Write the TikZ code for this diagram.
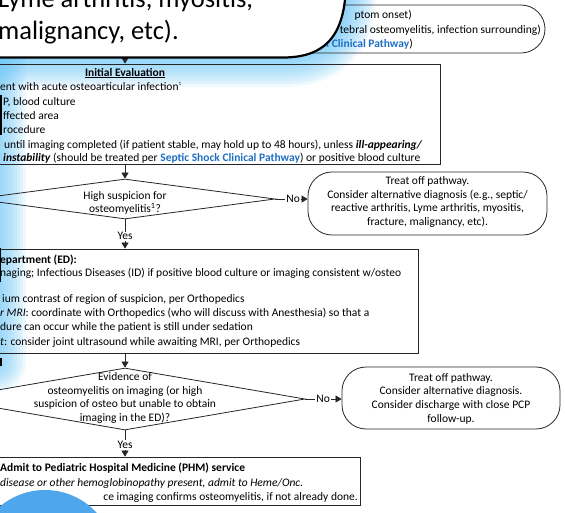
\documentclass[tikz,border=0pt]{standalone}
\usepackage{fontspec}
\setmainfont{Carlito}
\usepackage{xcolor}
\usetikzlibrary{arrows.meta,positioning,calc,shapes.geometric}
\definecolor{linkblue}{RGB}{31,110,196}
\definecolor{glowblue}{RGB}{95,192,245}
\definecolor{dotblue}{RGB}{78,166,236}

\begin{document}
\begin{tikzpicture}[x=1pt,y=-1pt,
    every node/.style={font=\fontsize{11.5}{13.7}\selectfont},
    frame/.style={draw=black!85,line width=0.8pt,inner sep=0pt},
    decision/.style={frame,diamond},
    terminal/.style={frame,rounded corners=24pt},
    line/.style={anchor=base west,inner sep=0pt},
    lineend/.style={anchor=base east,inner sep=0pt},
    arr/.style={draw=black!85,line width=0.7pt,-{Triangle[length=6pt,width=7pt]}},
    lbl/.style={fill=white,inner sep=1pt},
    glow/.style={draw=glowblue,opacity=0.1,line cap=round,line join=round}]
  \useasboundingbox (0,0) rectangle (565,512);
  \clip (0,0) rectangle (565,512);

  % glow round the callout
  \foreach \w in {6,12,...,60}{
    \draw[glow,line width=\w pt] (-20,57) -- (283,57) .. controls (330,57) and (346,30) .. (346,-10);
    \draw[glow,line width=\w pt] (-4,57) -- (-4,362);
  }

  % top box, mostly under the callout
  \node[terminal,minimum width=345pt,minimum height=48pt] (onset) at (372.5,29) {};
  \node[lineend] (onset1) at (412,18) {ptom onset)};
  \node[lineend] (onset2) at (541,33) {tebral osteomyelitis, infection surrounding)};
  \node[lineend] (onset3) at (413,47) {\textcolor{linkblue}{\textbf{ck Clinical Pathway}})};

  % initial evaluation
  \coordinate (entry) at (125,40);
  \node[frame,minimum width=630pt,minimum height=100pt] (initial) at (125,114) {};
  \draw[arr] (entry) -- (initial);
  \node[anchor=base,inner sep=0pt] (initialtitle) at (125,76) {\textbf{\underline{Initial Evaluation}}};
  \node[line] (initial1) at (0,90) {ent with acute osteoarticular infection\textsuperscript{\tiny 1}};
  \node[line] (initial2) at (3,105) {P, blood culture};
  \node[line] (initial3) at (3,119) {ffected area};
  \node[line] (initial4) at (3,133) {rocedure};
  \node[line] (initial5) at (4,148) {until imaging completed (if patient stable, may hold up to 48 hours), unless \textbf{\textit{ill-appearing/}}};
  \node[line] (initial6) at (3,161) {\textbf{\textit{instability}} (should be treated per \textcolor{linkblue}{\textbf{Septic Shock Clinical Pathway}}) or positive blood culture};

  % first decision
  \node[decision,minimum width=300pt,minimum height=40pt] (suspicion) at (125,199) {};
  \node[align=center,inner sep=0pt] (suspiciontext) at (125,203) {High suspicion for\\osteomyelitis\textsuperscript{1}?};
  \draw[arr] (initial) -- (suspicion);
  \node[terminal,minimum width=239pt,minimum height=63pt] (offpath) at (427.5,203.5) {};
  \node[align=center,inner sep=0pt] (offpathtext) at (427.5,202) {Treat off pathway.\\Consider alternative diagnosis (e.g., septic/\\reactive arthritis, Lyme arthritis, myositis,\\fracture, malignancy, etc).};
  \draw[arr] (suspicion.east) -- node[lbl,pos=0.55] (no1) {No} (suspicion.east -| offpath.west);

  % emergency department
  \node[frame,minimum width=586pt,minimum height=104pt] (ed) at (125,301) {};
  \draw[arr] (suspicion) -- node[lbl,pos=0.58] (yes1) {Yes} (ed);
  \node[line] (ed1) at (0,263) {\textbf{epartment (ED):}};
  \node[line] (ed2) at (0,276) {naging; Infectious Diseases (ID) if positive blood culture or imaging consistent w/osteo};
  \node[line] (ed3) at (2,302) {ium contrast of region of suspicion, per Orthopedics};
  \node[line] (ed4) at (0,316) {\textit{r MRI}: coordinate with Orthopedics (who will discuss with Anesthesia) so that a};
  \node[line] (ed5) at (0,330) {dure can occur while the patient is still under sedation};
  \node[line] (ed6) at (0,345) {\textit{t}: consider joint ultrasound while awaiting MRI, per Orthopedics};

  % second decision
  \node[decision,minimum width=360pt,minimum height=62pt] (evidence) at (125,399) {};
  \node[align=center,inner sep=0pt] (evidencetext) at (125,398) {Evidence of\\osteomyelitis on imaging (or high\\suspicion of osteo but unable to obtain\\imaging in the ED)?};
  \draw[arr] (ed) -- (evidence);
  \node[terminal,minimum width=218pt,minimum height=62pt] (discharge) at (451,398) {};
  \node[align=center,inner sep=0pt] (dischargetext) at (451,398.5) {Treat off pathway.\\Consider alternative diagnosis.\\Consider discharge with close PCP\\follow-up.};
  \draw[arr] (evidence.east) -- node[lbl,pos=0.49] (no2) {No} (evidence.east -| discharge.west);

  % admission
  \node[frame,minimum width=470pt,minimum height=48pt] (phm) at (125,481) {};
  \draw[arr] (evidence) -- node[lbl,pos=0.55] (yes2) {Yes} (phm);
  \node[line] (phm1) at (0,471) {\textbf{Admit to Pediatric Hospital Medicine (PHM) service}};
  \node[line] (phm2) at (0,486) {\textit{disease or other hemoglobinopathy present, admit to Heme/Onc.}};
  \node[lineend] (phm3) at (358,500) {ce imaging confirms osteomyelitis, if not already done.};

  % callout
  \fill[white] (-20,-20) -- (-20,57.5) -- (283,57.5) .. controls (330,57.5) and (346,30) .. (346,-20) -- cycle;
  \draw[line width=2.2pt] (-20,57.5) -- (283,57.5) .. controls (330,57.5) and (346,30) .. (346,-20);
  \node[line,font=\fontsize{26.5}{31}\selectfont] (callout1) at (-2,7) {Lyme arthritis, myositis,};
  \node[line,font=\fontsize{26.5}{31}\selectfont] (callout2) at (-2,39) {malignancy, etc).};
  \draw[line width=1.6pt] (1,95) -- (1,135);
  \draw[line width=1.6pt] (0.5,248) -- (0.5,282);
  \draw[line width=1.6pt] (1,358) -- (1,366);

  \fill[dotblue] (45,560) circle (70);
\end{tikzpicture}
\end{document}
